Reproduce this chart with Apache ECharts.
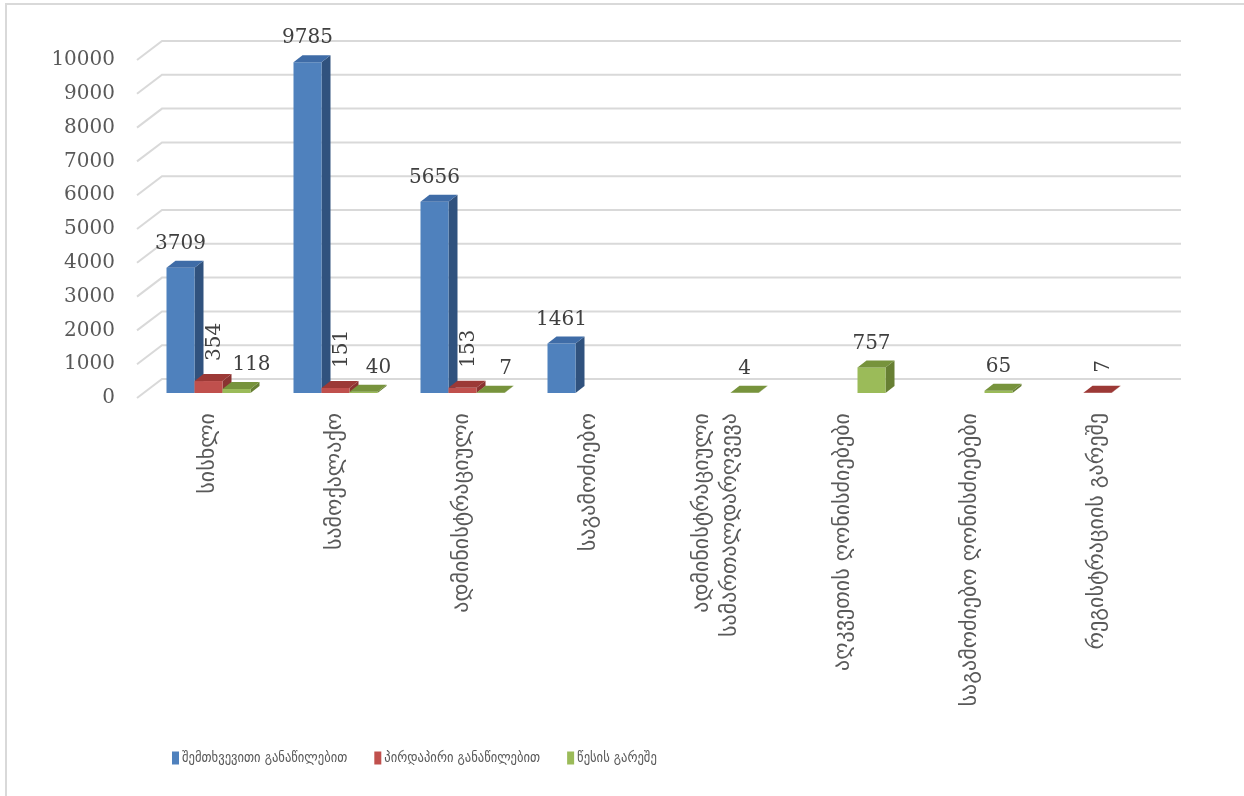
<!DOCTYPE html>
<html>
<head>
<meta charset="utf-8">
<script src="https://cdn.jsdelivr.net/npm/echarts@6/dist/echarts.min.js"></script>
<style>
  html, body { margin: 0; padding: 0; background: #fff; }
  #chart { width: 1244px; height: 796px; }
</style>
</head>
<body>
<div id="chart"></div>
<script>
let categories = [
  'სისხლი',
  'სამოქალაქო',
  'ადმინისტრაციული',
  'საგამოძიებო',
  'ადმინისტრაციული\nსამართალდარღვევა',
  'აღკვეთის ღონისძიებები',
  'საგამოძიებო ღონისძიებები',
  'რეგისტრაციის გარეშე'
]
let seriesNames = ['შემთხვევითი განაწილებით', 'პირდაპირი განაწილებით', 'წესის გარეშე']
let randomDist = [3709, 9785, 5656, 1461, null, null, null, null]
let directDist = [354, 151, 153, null, null, null, null, 7]
let noRule = [118, 40, 7, null, 4, 757, 65, null]
let yTicks = [0, 1000, 2000, 3000, 4000, 5000, 6000, 7000, 8000, 9000, 10000]

// front, top, side colours for each series
let faces = [
  { front: '#4F81BD', top: '#3F6CA7', side: '#30527E' },
  { front: '#C0504D', top: '#9C3936', side: '#8A3331' },
  { front: '#9BBB59', top: '#77933C', side: '#677F33' }
]
let BAR_W = 28
let DX = 9, DY = -7
let numFont = 'DejaVu Serif'

function toPairs(arr) {
  let out = []
  arr.forEach(function (v, i) { if (v != null) out.push([i, v]) })
  return out
}

function renderBar(params, api) {
  let s = params.seriesIndex - 1
  let cat = api.value(0)
  let v = api.value(1)
  let top = api.coord([cat, v])
  let base = api.coord([cat, 0])
  let x0 = top[0] + (s - 1) * BAR_W - BAR_W / 2
  let x1 = x0 + BAR_W
  let yT = top[1], yB = base[1]
  let c = faces[s]
  let children = [
    { type: 'polygon', shape: { points: [[x1, yB], [x1, yT], [x1 + DX, yT + DY], [x1 + DX, yB + DY]] }, style: { fill: c.side } },
    { type: 'rect', shape: { x: x0, y: yT, width: BAR_W, height: yB - yT }, style: { fill: c.front } },
    { type: 'polygon', shape: { points: [[x0, yT], [x1, yT], [x1 + DX, yT + DY], [x0 + DX, yT + DY]] }, style: { fill: c.top } }
  ]
  let cx = (x0 + x1) / 2
  if (s === 1) {
    children.push({
      type: 'text', z2: 50, x: cx + 6, y: yT + DY - 13, rotation: Math.PI / 2,
      style: { text: String(v), fill: '#404040', font: '20px "' + numFont + '"', align: 'left', verticalAlign: 'middle' }
    })
  } else {
    let shift = (s === 2 && directDist[cat] != null) ? 15 : 0
    children.push({
      type: 'text', z2: 50, x: cx + shift, y: yT + DY - 7,
      style: { text: String(v), fill: '#404040', font: '20px "' + numFont + '"', align: 'center', verticalAlign: 'bottom' }
    })
  }
  return { type: 'group', children: children }
}

function renderWall(params, api) {
  let y = api.coord([0, api.value(1)])[1]
  let cs = params.coordSys
  return {
    type: 'polyline',
    shape: { points: [[cs.x, y], [cs.x + 25, y - 19], [cs.x + cs.width + 25, y - 19]] },
    style: { stroke: '#D9D9D9', lineWidth: 2, fill: null }
  }
}

let chart = echarts.init(document.getElementById('chart'))
let barSeries = [randomDist, directDist, noRule].map(function (arr, i) {
  return {
    name: seriesNames[i],
    type: 'custom',
    xAxisIndex: 0,
    yAxisIndex: 0,
    renderItem: renderBar,
    itemStyle: { color: faces[i].front },
    data: toPairs(arr),
    z: 5
  }
})

let option = {
  backgroundColor: '#ffffff',
  animation: false,
  graphic: [{
    type: 'rect', shape: { x: 6, y: 4, width: 1400, height: 900 },
    style: { fill: null, stroke: '#D9D9D9', lineWidth: 2 }, silent: true
  }],
  legend: {
    left: 172,
    top: 751,
    padding: 0,
    icon: 'rect',
    itemWidth: 7,
    itemHeight: 13,
    itemGap: 27,
    textStyle: { fontFamily: 'DejaVu Sans Condensed', fontSize: 14, color: '#595959', padding: [0, 0, 0, -2] },
    data: seriesNames
  },
  grid: [
    { left: 145, right: 83, top: 55, height: 338, outerBoundsMode: 'none' },
    { left: 137, right: 88, top: 60, height: 338, outerBoundsMode: 'none' }
  ],
  xAxis: [
    {
      gridIndex: 0,
      type: 'category',
      data: categories,
      axisLine: { show: false },
      axisTick: { show: false },
      axisLabel: {
        rotate: 90,
        margin: 20,
        interval: 0,
        color: '#595959',
        fontFamily: 'DejaVu Sans',
        fontSize: 22,
        lineHeight: 28
      }
    },
    { gridIndex: 1, type: 'value', min: 0, max: 1, show: false }
  ],
  yAxis: [
    { gridIndex: 0, type: 'value', min: 0, max: 10000, show: false },
    {
      gridIndex: 1,
      type: 'value',
      min: 0,
      max: 10000,
      interval: 1000,
      axisLine: { show: false },
      axisTick: { show: false },
      splitLine: { show: false },
      axisLabel: {
        margin: 22,
        color: '#595959',
        fontFamily: numFont,
        fontSize: 20,
        formatter: function (v) { return String(v) }
      }
    }
  ],
  series: [{
    type: 'custom',
    xAxisIndex: 1,
    yAxisIndex: 1,
    renderItem: renderWall,
    silent: true,
    z: 1,
    data: yTicks.map(function (t) { return [0, t] })
  }].concat(barSeries)
}
chart.setOption(option)
</script>
</body>
</html>
